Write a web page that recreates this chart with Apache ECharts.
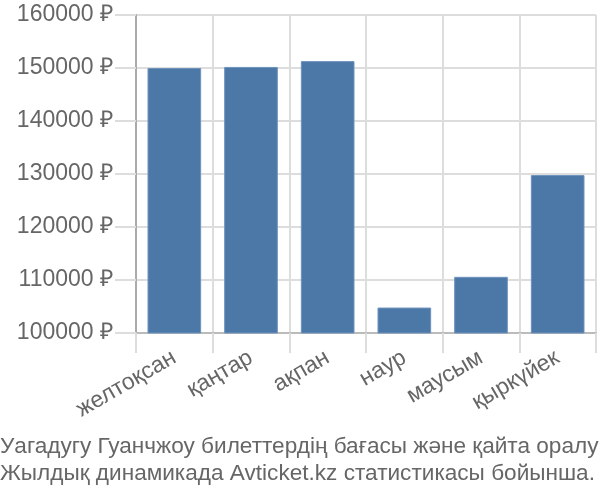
<!DOCTYPE html>
<html><head><meta charset="utf-8">
<script src="https://cdn.jsdelivr.net/npm/echarts@6/dist/echarts.min.js"></script>
<style>html,body{margin:0;padding:0;background:#fff}#c{width:600px;height:500px}</style>
</head><body><div id="c"></div>
<script>
const categories = ['желтоқсан','қаңтар','ақпан','наур','маусым','қыркүйек'];
const prices = [150000, 150200, 151300, 104800, 110600, 129800];
const yTicks = [100000, 160000, 10000];
const titleLines = ['Уагадугу Гуанчжоу билеттердің бағасы және қайта оралу','Жылдық динамикада Avticket.kz статистикасы бойынша.'];

const chart = echarts.init(document.getElementById('c'), null, {renderer:'canvas'});
chart.setOption({
  animation:false,
  textStyle:{fontFamily:'Liberation Sans, Arial, sans-serif'},
  grid:{left:136,right:4,top:15,bottom:167,containLabel:false},
  title:{text:titleLines.join('\n'),left:0,top:433,padding:0,itemGap:0,
    textStyle:{fontSize:22.6,fontWeight:'normal',color:'#666',lineHeight:27,fontFamily:'Liberation Sans, sans-serif'}},
  xAxis:{type:'category',data:categories,
    axisLine:{lineStyle:{color:'#bbb',width:2}},
    axisTick:{show:true,length:20,lineStyle:{color:'#ddd',width:2}},
    splitLine:{show:true,lineStyle:{color:'#ddd',width:2}},
    axisLabel:{rotate:30,fontSize:23,color:'#666',margin:23,interval:0}},
  yAxis:{type:'value',min:yTicks[0],max:yTicks[1],interval:yTicks[2],
    axisLine:{show:true,lineStyle:{color:'#aaa',width:2}},
    axisTick:{show:true,length:21,lineStyle:{color:'#ddd',width:2}},
    splitLine:{show:true,lineStyle:{color:'#ddd',width:2}},
    axisLabel:{formatter:function(v){return String(v)+' ₽';},fontSize:23,color:'#666',margin:23}},
  series:[{type:'bar',data:prices,barCategoryGap:'30%',
    itemStyle:{color:'#4c78a8',borderColor:'#6f93bd',borderWidth:1}}]
});
</script></body></html>
